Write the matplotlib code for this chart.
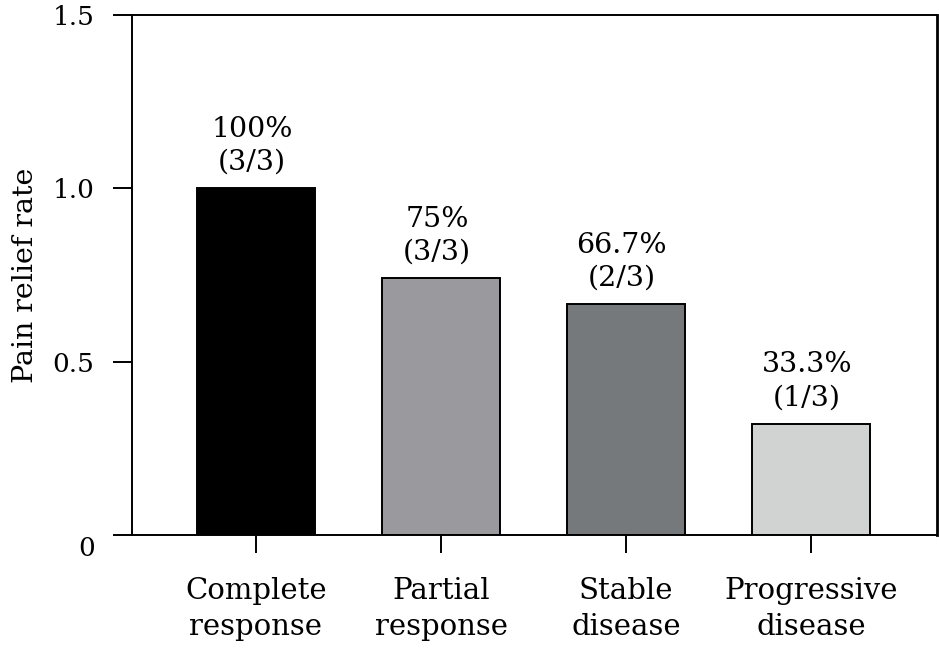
import matplotlib
matplotlib.use("Agg")
import matplotlib.pyplot as plt
import matplotlib.transforms as mtransforms

categories = ["Complete\nresponse", "Partial\nresponse", "Stable\ndisease", "Progressive\ndisease"]
values = [1.0, 0.74, 0.665, 0.32]
labels = ["100%\n(3/3)", "75%\n(3/3)", "66.7%\n(2/3)", "33.3%\n(1/3)"]
colors = ["#000000", "#9a999e", "#76797b", "#d1d3d2"]
yticks = [0, 0.5, 1.0, 1.5]
yticklabels = ["0", "0.5", "1.0", "1.5"]

plt.rcParams["font.family"] = ["DejaVu Serif"]

fig = plt.figure(figsize=(9.39, 6.5), dpi=100)
ax = fig.add_axes([132/939, 1-535/650, (937-132)/939, (535-15)/650])

x = list(range(len(categories)))
bars = ax.bar(x, values, width=0.64, color=colors, edgecolor="black", linewidth=1.4)

for xi, v, lab in zip(x, values, labels):
    ax.annotate(lab, (xi, v), xytext=(-3, 9), textcoords="offset points",
                ha="center", va="bottom", fontsize=20.5, linespacing=1.3)

ax.set_xlim(-0.67, 3.68)
ax.set_ylim(0, 1.5)
ax.set_yticks(yticks)
ax.set_yticklabels(yticklabels, fontsize=19)
ax.set_xticks(x)
ax.set_xticklabels(categories, fontsize=21, linespacing=1.4)
ax.set_ylabel("Pain relief rate", fontsize=20.5, labelpad=10)

ax.tick_params(axis="y", direction="out", length=14, width=1.4, pad=13)
ax.tick_params(axis="x", direction="out", length=13, width=1.4, pad=17)

for s in ["left", "bottom", "top"]:
    ax.spines[s].set_linewidth(1.4)
ax.spines["right"].set_linewidth(2.0)

# shift the "0" label slightly lower, as in the reference
for t in ax.get_yticklabels():
    if t.get_text() == "0":
        t.set_transform(t.get_transform() + mtransforms.ScaledTranslation(0, -8/72, fig.dpi_scale_trans))

fig.savefig("out.png", dpi=100)
